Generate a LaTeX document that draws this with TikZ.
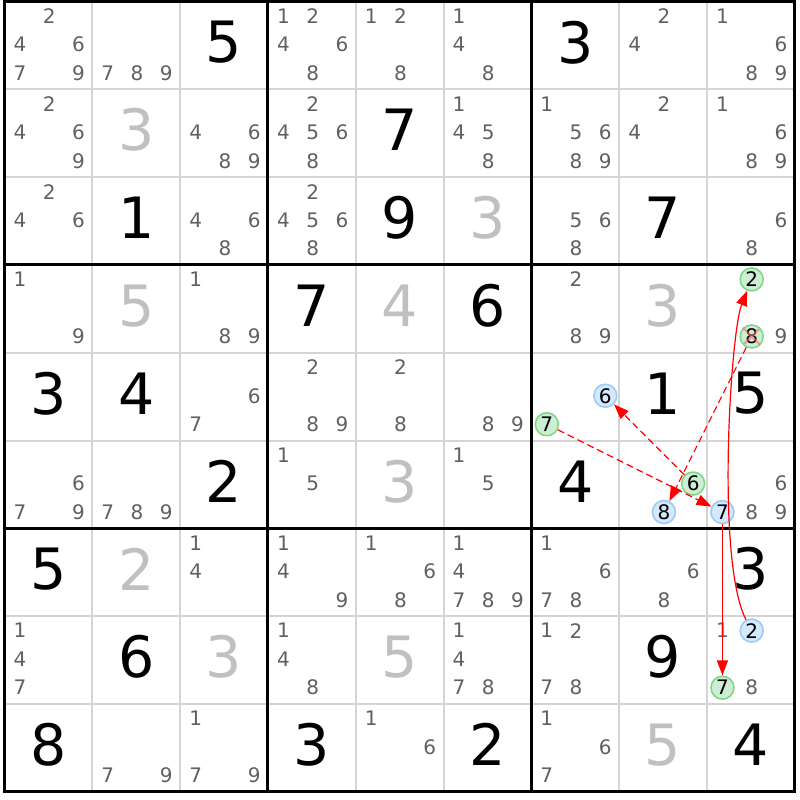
\documentclass[tikz,border=0pt]{standalone}
\usepackage{fontspec}
\setmainfont{DejaVu Sans}
\usetikzlibrary{arrows.meta}
\definecolor{candgray}{RGB}{95,95,100}
\definecolor{solvedgray}{RGB}{192,192,192}
\definecolor{gridgray}{RGB}{212,212,212}
\definecolor{linkgreen}{RGB}{125,212,135}
\definecolor{fillgreen}{RGB}{205,238,210}
\definecolor{linkblue}{RGB}{155,200,245}
\definecolor{fillblue}{RGB}{212,232,251}
\definecolor{crossred}{RGB}{240,110,110}

\begin{document}
\begin{tikzpicture}[x=87.8pt,y=-87.8pt,
   given/.style={inner sep=0pt,yshift=3pt,font=\fontsize{57}{57}\selectfont},
   solved/.style={given,text=solvedgray},
   cand/.style={inner sep=0pt,text=candgray,font=\fontsize{20}{20}\selectfont},
   oncand/.style={circle,inner sep=0pt,minimum size=23pt,line width=1.5pt,text=black,
      font=\fontsize{20}{20}\selectfont,draw=linkgreen,fill=fillgreen},
   offcand/.style={oncand,draw=linkblue,fill=fillblue},
   weaklink/.style={red,line width=1.2pt,dash pattern=on 7pt off 4pt,-{Triangle[length=15pt,width=11pt]}},
   stronglink/.style={red,line width=1.2pt,-{Triangle[length=15pt,width=11pt]}}]
   \useasboundingbox (0.4487,0.4829) rectangle (9.5603,9.5945);

   \foreach \i in {1.5,2.5,4.5,5.5,7.5,8.5} {
      \draw[gridgray,line width=2pt] (\i,0.5) -- (\i,9.5);
      \draw[gridgray,line width=2pt] (0.5,\i) -- (9.5,\i);
   }
   \foreach \i in {3.5,6.5} {
      \draw[line width=3pt] (\i,0.5) -- (\i,9.5);
      \draw[line width=3pt] (0.5,\i) -- (9.5,\i);
   }
   \draw[line width=3pt] (0.5,0.5) rectangle (9.5,9.5);

   \foreach \r/\c/\d in {1/3/5,1/7/3,2/5/7,3/2/1,3/5/9,3/8/7,4/4/7,4/6/6,5/1/3,5/2/4,5/8/1,5/9/5,
      6/3/2,6/7/4,7/1/5,7/9/3,8/2/6,8/8/9,9/1/8,9/4/3,9/6/2,9/9/4}
      \node[given] (g\r\c) at (\c,\r) {\d};
   \foreach \r/\c/\d in {2/2/3,3/6/3,4/2/5,4/5/4,4/8/3,6/5/3,7/2/2,8/3/3,8/5/5,9/8/5}
      \node[solved] (g\r\c) at (\c,\r) {\d};

   \foreach \r/\c/\ds in {1/1/{2,4,6,7,9},1/2/{7,8,9},1/4/{1,2,4,6,8},1/5/{1,2,8},1/6/{1,4,8},1/8/{2,4},1/9/{1,6,8,9},
      2/1/{2,4,6,9},2/3/{4,6,8,9},2/4/{2,4,5,6,8},2/6/{1,4,5,8},2/7/{1,5,6,8,9},2/8/{2,4},2/9/{1,6,8,9},
      3/1/{2,4,6},3/3/{4,6,8},3/4/{2,4,5,6,8},3/7/{5,6,8},3/9/{6,8},
      4/1/{1,9},4/3/{1,8,9},4/7/{2,8,9},4/9/{9},
      5/3/{6,7},5/4/{2,8,9},5/5/{2,8},5/6/{8,9},
      6/1/{6,7,9},6/2/{7,8,9},6/4/{1,5},6/6/{1,5},6/9/{6,8,9},
      7/3/{1,4},7/4/{1,4,9},7/5/{1,6,8},7/6/{1,4,7,8,9},7/7/{1,6,7,8},7/8/{6,8},
      8/1/{1,4,7},8/4/{1,4,8},8/6/{1,4,7,8},8/7/{1,2,7,8},8/9/{1,8},
      9/2/{7,9},9/3/{1,7,9},9/5/{1,6},9/7/{1,6,7}}
      \foreach \k in \ds
         \node[cand] (n\r\c\k) at ({\c+(mod(\k-1,3)-1)*0.333+0.01},{\r+(floor((\k-1)/3)-1)*0.325-0.01}) {\k};

   \foreach \r/\c/\k in {4/9/2,4/9/8,5/7/7,6/8/6,8/9/7}
      \node[oncand] (h\r\c\k) at ({\c+(mod(\k-1,3)-1)*0.333+0.01},{\r+(floor((\k-1)/3)-1)*0.325-0.01}) {\k};
   \foreach \r/\c/\k in {5/7/6,6/8/8,6/9/7,8/9/2}
      \node[offcand] (h\r\c\k) at ({\c+(mod(\k-1,3)-1)*0.333+0.01},{\r+(floor((\k-1)/3)-1)*0.325-0.01}) {\k};
   \draw[crossred,opacity=0.6,line width=2pt,shorten <=2pt,shorten >=2pt]
      (h498.north west) -- (h498.south east) (h498.north east) -- (h498.south west);

   \draw[weaklink] (h577) -- (h697);
   \draw[weaklink] (h686) -- (h576);
   \draw[weaklink] (h498) -- (h688);
   \draw[stronglink] (h697) -- (h897);
   \draw[stronglink] (h892) .. controls +(-0.41,-0.79) and +(-0.24,0.6) .. (h492);
\end{tikzpicture}
\end{document}
